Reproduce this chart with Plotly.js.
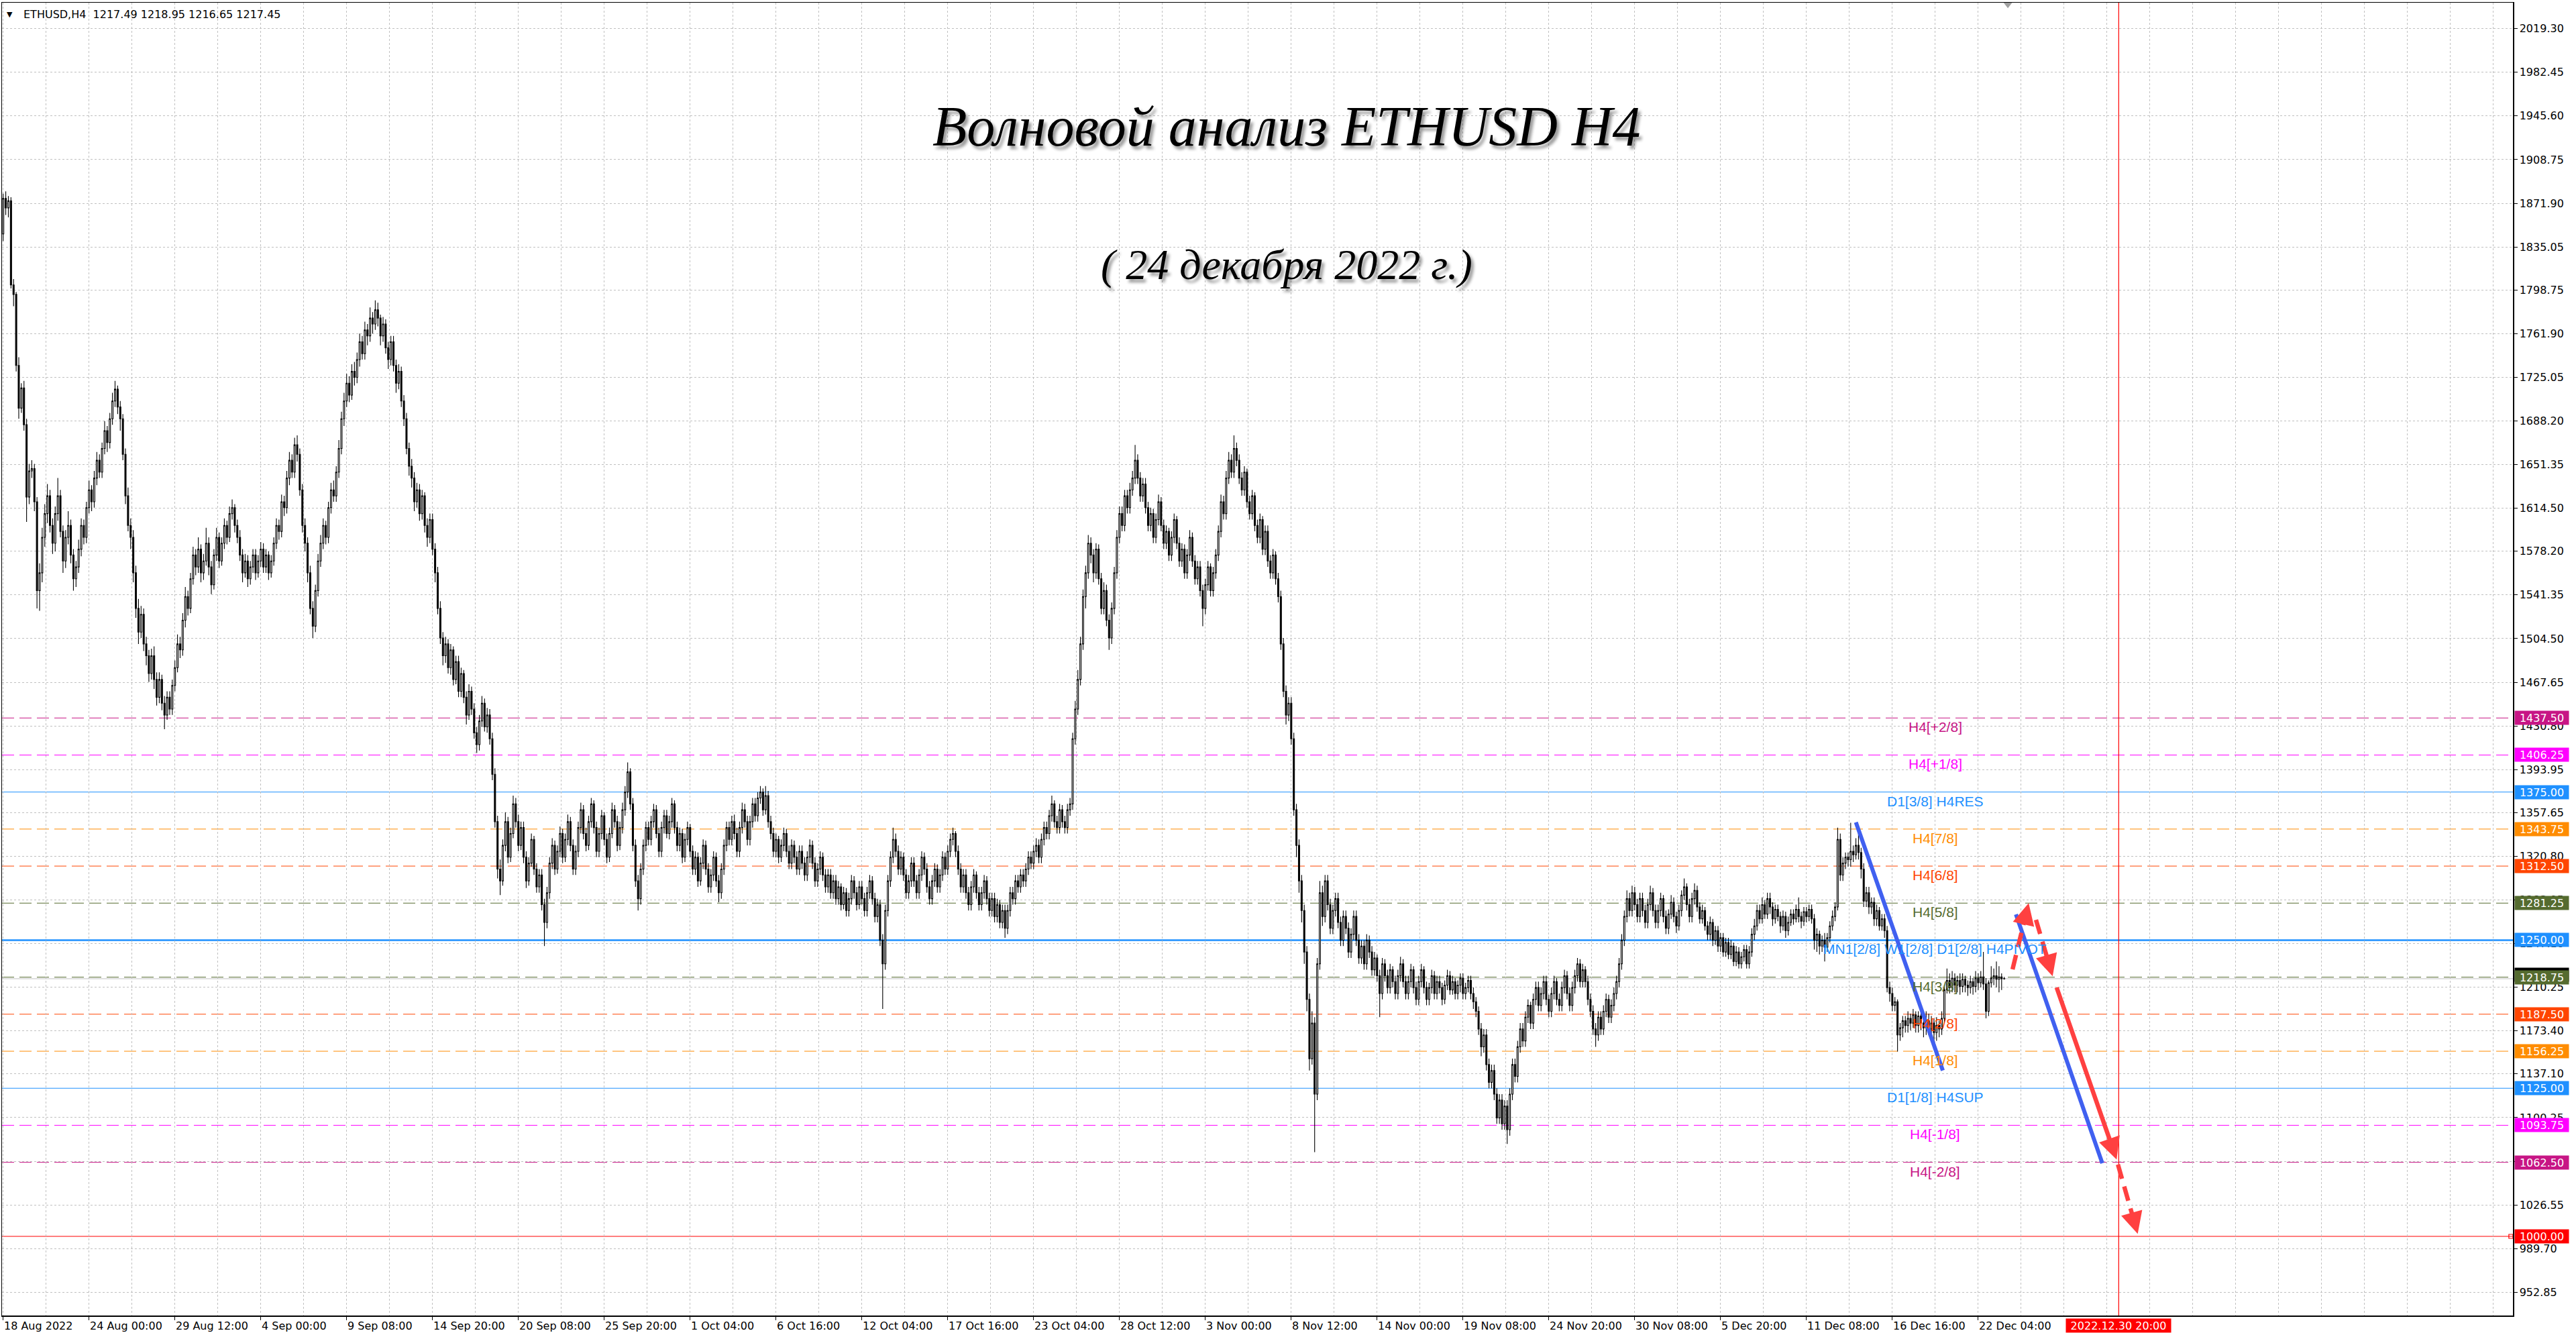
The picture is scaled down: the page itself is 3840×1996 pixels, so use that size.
<!DOCTYPE html>
<html><head><meta charset="utf-8">
<script src="https://cdn.plot.ly/plotly-3.0.1.min.js"></script>
<style>html,body{margin:0;padding:0;background:#fff;}#chart{width:3840px;height:1996px;}</style>
</head><body><div id="chart"></div>
<script>
// ---- Candle data (ETHUSD H4, bar 0 = 18 Aug 2022 12:00) ----
const firstOpen = 1846;
const close = [
1876,1868,1874,1803,1795,1735,1699,1716,1685,1624,
1646,1648,1620,1545,1560,1590,1610,1625,1600,1585,
1610,1625,1595,1570,1590,1600,1575,1555,1565,1580,
1600,1590,1615,1630,1620,1640,1655,1645,1665,1680,
1670,1690,1705,1715,1700,1690,1660,1625,1600,1590,
1560,1530,1510,1525,1500,1490,1475,1490,1470,1455,
1470,1450,1440,1455,1445,1465,1480,1500,1495,1520,
1540,1530,1555,1575,1565,1580,1560,1570,1585,1565,
1550,1575,1590,1570,1585,1600,1590,1610,1615,1600,
1590,1575,1560,1570,1555,1565,1575,1560,1570,1580,
1565,1575,1560,1570,1585,1600,1595,1620,1615,1640,
1655,1645,1668,1660,1630,1600,1585,1560,1530,1515,
1545,1570,1585,1600,1590,1615,1630,1625,1645,1665,
1690,1705,1720,1710,1730,1725,1740,1755,1745,1765,
1760,1775,1770,1782,1775,1760,1770,1750,1740,1755,
1735,1720,1730,1705,1690,1665,1650,1640,1620,1630,
1610,1625,1600,1590,1605,1580,1560,1530,1505,1490,
1500,1480,1495,1470,1485,1460,1475,1455,1440,1460,
1445,1425,1415,1435,1450,1430,1440,1420,1390,1350,
1310,1300,1330,1350,1320,1340,1365,1350,1330,1345,
1320,1300,1315,1335,1310,1295,1305,1280,1265,1290,
1315,1330,1310,1325,1340,1320,1335,1350,1330,1310,
1325,1345,1360,1340,1330,1350,1365,1345,1325,1340,
1355,1335,1320,1340,1360,1350,1330,1345,1360,1375,
1392,1365,1330,1300,1285,1310,1330,1345,1335,1350,
1360,1340,1325,1345,1355,1340,1350,1365,1345,1330,
1340,1320,1335,1345,1325,1310,1320,1300,1315,1330,
1310,1295,1305,1320,1300,1290,1310,1330,1345,1335,
1350,1340,1325,1345,1360,1350,1335,1350,1365,1355,
1370,1375,1360,1372,1350,1340,1325,1335,1320,1330,
1340,1325,1315,1330,1320,1310,1325,1315,1305,1320,
1330,1315,1300,1310,1320,1305,1295,1305,1290,1300,
1285,1295,1280,1290,1275,1285,1300,1290,1280,1295,
1285,1275,1290,1300,1285,1270,1280,1250,1230,1275,
1300,1320,1335,1325,1310,1320,1305,1290,1300,1315,
1300,1290,1305,1320,1310,1295,1285,1300,1310,1295,
1305,1320,1310,1325,1335,1340,1325,1310,1295,1305,
1290,1280,1295,1305,1290,1280,1290,1300,1285,1275,
1285,1270,1280,1265,1275,1260,1275,1290,1285,1300,
1295,1305,1300,1310,1320,1315,1325,1330,1320,1335,
1345,1340,1355,1365,1350,1345,1360,1350,1345,1360,
1365,1420,1445,1470,1500,1540,1560,1585,1575,1560,
1580,1555,1530,1545,1520,1505,1530,1560,1590,1610,
1600,1625,1615,1630,1640,1655,1640,1625,1635,1615,
1600,1610,1590,1605,1620,1600,1585,1595,1575,1590,
1605,1585,1570,1580,1560,1575,1590,1570,1555,1565,
1545,1530,1550,1565,1545,1560,1575,1595,1620,1610,
1640,1655,1645,1665,1655,1640,1630,1645,1620,1610,
1625,1600,1590,1605,1580,1595,1570,1560,1575,1555,
1540,1500,1460,1440,1450,1420,1360,1330,1300,1275,
1240,1200,1150,1180,1120,1230,1290,1270,1300,1280,
1260,1275,1285,1265,1250,1270,1260,1240,1255,1270,
1250,1235,1245,1230,1250,1240,1225,1235,1220,1205,
1230,1220,1210,1225,1215,1205,1220,1230,1215,1205,
1215,1225,1210,1200,1215,1225,1210,1200,1210,1220,
1205,1215,1210,1200,1212,1220,1208,1215,1205,1212,
1218,1205,1210,1216,1205,1198,1190,1175,1160,1170,
1145,1130,1140,1120,1100,1115,1095,1110,1090,1120,
1145,1135,1160,1175,1165,1185,1195,1180,1200,1210,
1195,1205,1215,1200,1190,1205,1215,1200,1195,1210,
1220,1205,1195,1210,1220,1230,1215,1225,1215,1200,
1190,1175,1170,1185,1175,1190,1200,1185,1195,1205,
1215,1230,1250,1270,1285,1275,1290,1280,1270,1285,
1275,1265,1280,1290,1275,1265,1275,1285,1270,1260,
1272,1282,1270,1262,1275,1288,1295,1280,1270,1285,
1292,1278,1268,1275,1262,1255,1265,1250,1258,1245,
1252,1240,1248,1238,1245,1232,1240,1230,1236,1242,
1230,1240,1255,1262,1275,1268,1280,1272,1285,1278,
1268,1276,1270,1262,1270,1258,1265,1272,1268,1276,
1270,1266,1274,1270,1276,1268,1250,1255,1245,1250,
1244,1252,1262,1270,1278,1335,1305,1315,1320,1318,
1325,1322,1330,1324,1310,1283,1290,1278,1282,1268,
1275,1262,1268,1258,1210,1205,1195,1198,1170,1176,
1182,1178,1184,1180,1187,1178,1186,1180,1176,1182,
1175,1180,1172,1178,1175,1184,1208,1216,1210,1218,
1212,1216,1211,1217,1212,1210,1215,1211,1218,1214,
1219,1213,1190,1214,1218,1220,1217,1219,1217.49,1217.45
];
const high = [
1880,1882,1878,1877,1808,1797,1742,1720,1722,1690,
1652,1655,1652,1624,1568,1598,1618,1635,1630,1606,
1616,1640,1630,1600,1596,1612,1605,1580,1570,1588,
1606,1605,1620,1638,1634,1646,1662,1660,1670,1688,
1684,1695,1712,1722,1718,1705,1694,1665,1632,1606,
1596,1566,1538,1532,1530,1506,1495,1496,1498,1476,
1476,1474,1456,1460,1460,1470,1486,1508,1506,1526,
1548,1545,1560,1582,1580,1590,1584,1576,1598,1590,
1570,1580,1598,1594,1590,1606,1604,1616,1622,1618,
1605,1596,1580,1576,1575,1570,1580,1580,1575,1586,
1585,1580,1578,1575,1590,1606,1605,1626,1625,1646,
1662,1660,1674,1676,1665,1635,1606,1590,1566,1536,
1550,1576,1592,1606,1604,1620,1636,1638,1650,1672,
1696,1712,1728,1726,1736,1738,1746,1762,1760,1772,
1770,1784,1780,1790,1788,1778,1776,1774,1755,1760,
1760,1740,1736,1734,1710,1695,1670,1656,1645,1636,
1635,1630,1628,1606,1610,1610,1585,1565,1536,1510,
1506,1504,1500,1498,1490,1490,1480,1478,1460,1466,
1464,1450,1430,1440,1456,1454,1446,1445,1425,1395,
1355,1318,1335,1358,1354,1345,1372,1370,1356,1350,
1350,1325,1320,1340,1338,1315,1310,1310,1285,1295,
1320,1336,1334,1330,1346,1344,1340,1356,1354,1335,
1330,1350,1366,1364,1345,1355,1370,1368,1350,1345,
1360,1358,1340,1345,1366,1364,1355,1350,1366,1380,
1400,1395,1370,1335,1305,1315,1335,1350,1350,1355,
1365,1364,1345,1350,1360,1360,1355,1370,1368,1350,
1345,1344,1340,1350,1348,1330,1325,1324,1320,1335,
1334,1315,1310,1325,1324,1305,1315,1335,1350,1350,
1355,1356,1345,1350,1366,1365,1355,1355,1370,1370,
1375,1380,1378,1380,1376,1355,1345,1340,1338,1335,
1345,1344,1330,1335,1334,1325,1330,1330,1320,1325,
1335,1334,1320,1315,1325,1324,1310,1310,1310,1305,
1305,1300,1298,1295,1294,1290,1305,1304,1295,1300,
1300,1290,1295,1305,1304,1290,1285,1284,1255,1280,
1305,1325,1345,1340,1330,1325,1324,1310,1305,1320,
1320,1305,1310,1325,1324,1315,1300,1305,1315,1314,
1310,1325,1324,1330,1340,1345,1342,1330,1315,1310,
1310,1295,1300,1310,1308,1295,1295,1305,1304,1290,
1290,1290,1285,1284,1280,1280,1280,1295,1295,1305,
1305,1310,1310,1315,1325,1325,1330,1336,1335,1340,
1350,1350,1360,1372,1368,1355,1365,1364,1355,1365,
1370,1425,1452,1478,1506,1546,1566,1592,1590,1580,
1585,1584,1560,1552,1550,1525,1535,1565,1596,1616,
1616,1630,1630,1636,1646,1668,1660,1645,1640,1640,
1620,1615,1614,1610,1626,1624,1605,1600,1598,1595,
1610,1608,1590,1585,1584,1580,1596,1594,1575,1570,
1570,1550,1555,1570,1568,1565,1580,1600,1626,1625,
1646,1662,1660,1676,1670,1660,1645,1650,1648,1625,
1630,1628,1605,1610,1608,1600,1600,1575,1580,1578,
1560,1545,1505,1465,1455,1455,1425,1365,1335,1305,
1280,1245,1205,1190,1185,1235,1300,1296,1305,1305,
1285,1280,1290,1290,1270,1275,1275,1265,1260,1275,
1275,1255,1250,1250,1255,1254,1245,1240,1238,1225,
1235,1234,1225,1230,1228,1220,1225,1236,1234,1220,
1220,1230,1228,1215,1220,1230,1228,1215,1214,1225,
1224,1220,1220,1214,1216,1225,1224,1220,1218,1216,
1222,1222,1214,1220,1220,1210,1202,1194,1180,1175,
1175,1150,1145,1145,1125,1120,1120,1115,1115,1125,
1150,1150,1165,1180,1180,1190,1200,1198,1205,1215,
1215,1210,1220,1220,1204,1210,1220,1218,1205,1215,
1225,1224,1210,1215,1225,1235,1234,1230,1228,1220,
1205,1195,1180,1190,1190,1195,1205,1204,1200,1210,
1220,1235,1255,1275,1292,1290,1296,1295,1285,1290,
1290,1280,1285,1296,1294,1280,1280,1290,1288,1275,
1276,1288,1286,1274,1280,1292,1302,1298,1285,1290,
1298,1296,1282,1280,1278,1266,1270,1268,1262,1262,
1256,1256,1252,1252,1250,1248,1245,1244,1240,1246,
1246,1245,1260,1268,1280,1280,1286,1284,1290,1290,
1282,1280,1280,1274,1275,1274,1270,1276,1276,1280,
1286,1274,1278,1278,1280,1280,1272,1260,1258,1254,
1256,1256,1266,1275,1282,1345,1340,1320,1324,1324,
1349,1330,1336,1346,1328,1315,1295,1295,1286,1286,
1280,1278,1272,1272,1262,1215,1210,1202,1200,1180,
1186,1186,1190,1188,1192,1190,1190,1190,1186,1190,
1188,1186,1184,1185,1182,1190,1212,1226,1222,1224,
1222,1220,1222,1222,1220,1216,1220,1218,1224,1222,
1224,1240,1218,1216,1228,1226,1232,1228,1222,1218.95
];
const low = [
1840,1862,1860,1800,1785,1730,1690,1695,1680,1603,
1618,1640,1612,1530,1528,1552,1582,1602,1594,1576,
1578,1604,1590,1560,1564,1584,1568,1545,1548,1560,
1574,1584,1585,1610,1612,1615,1634,1640,1640,1660,
1662,1665,1685,1700,1694,1680,1655,1618,1595,1580,
1552,1522,1500,1505,1494,1482,1468,1470,1462,1448,
1450,1444,1428,1436,1440,1440,1460,1476,1488,1490,
1514,1524,1526,1550,1558,1560,1552,1554,1566,1558,
1542,1546,1570,1564,1566,1580,1584,1586,1605,1594,
1585,1570,1552,1556,1548,1550,1560,1554,1556,1565,
1560,1560,1554,1556,1566,1580,1588,1590,1608,1610,
1634,1640,1640,1654,1625,1594,1578,1552,1525,1505,
1510,1540,1565,1580,1584,1585,1610,1620,1620,1640,
1660,1684,1700,1704,1706,1718,1720,1734,1740,1740,
1752,1755,1762,1765,1768,1752,1755,1745,1732,1735,
1730,1712,1715,1700,1684,1660,1642,1632,1612,1615,
1604,1605,1594,1582,1585,1575,1552,1525,1500,1482,
1484,1475,1474,1465,1466,1455,1455,1450,1432,1436,
1440,1420,1408,1410,1430,1426,1425,1415,1385,1345,
1302,1288,1296,1325,1315,1316,1336,1345,1325,1326,
1315,1294,1296,1312,1305,1290,1290,1275,1245,1260,
1285,1310,1305,1306,1320,1315,1316,1330,1325,1305,
1305,1320,1340,1335,1325,1326,1345,1340,1320,1320,
1335,1330,1315,1316,1336,1345,1325,1326,1340,1355,
1370,1360,1325,1295,1275,1280,1305,1325,1330,1330,
1345,1336,1320,1320,1340,1336,1335,1345,1340,1325,
1325,1315,1316,1330,1320,1305,1305,1295,1296,1310,
1305,1290,1290,1300,1295,1282,1285,1305,1325,1330,
1330,1335,1320,1320,1340,1345,1330,1330,1345,1350,
1350,1365,1355,1356,1345,1335,1320,1320,1315,1316,
1325,1320,1310,1310,1315,1305,1305,1310,1300,1300,
1315,1310,1295,1295,1305,1300,1290,1290,1285,1285,
1280,1280,1275,1276,1270,1270,1280,1285,1275,1276,
1280,1270,1270,1285,1280,1265,1265,1245,1192,1225,
1270,1295,1315,1320,1305,1305,1300,1285,1285,1295,
1295,1285,1285,1300,1305,1290,1280,1280,1295,1290,
1290,1300,1305,1305,1320,1330,1320,1305,1290,1290,
1285,1275,1275,1290,1285,1275,1275,1285,1280,1270,
1270,1265,1265,1260,1260,1252,1255,1270,1280,1280,
1290,1290,1295,1295,1305,1310,1310,1320,1315,1315,
1330,1335,1335,1350,1345,1340,1340,1345,1340,1340,
1355,1360,1415,1440,1465,1495,1530,1555,1568,1552,
1555,1550,1525,1525,1515,1495,1500,1525,1555,1585,
1595,1595,1610,1610,1625,1635,1635,1620,1620,1610,
1595,1595,1585,1585,1600,1595,1580,1580,1570,1570,
1585,1580,1565,1565,1555,1555,1570,1565,1550,1550,
1540,1515,1525,1545,1540,1540,1555,1570,1590,1605,
1605,1635,1640,1640,1650,1635,1625,1625,1615,1605,
1605,1595,1585,1585,1575,1575,1565,1555,1555,1550,
1535,1495,1455,1432,1435,1415,1355,1320,1290,1265,
1230,1190,1140,1145,1071,1115,1225,1262,1265,1275,
1255,1255,1270,1260,1245,1245,1255,1235,1235,1250,
1245,1230,1230,1225,1225,1235,1220,1220,1215,1185,
1200,1215,1205,1205,1210,1200,1200,1215,1210,1200,
1200,1210,1205,1195,1195,1210,1205,1195,1195,1205,
1200,1200,1205,1195,1196,1208,1204,1204,1200,1200,
1206,1200,1200,1206,1200,1192,1185,1170,1152,1155,
1140,1125,1125,1115,1095,1095,1090,1090,1078,1085,
1115,1130,1130,1155,1160,1160,1180,1175,1175,1195,
1190,1190,1200,1195,1185,1185,1200,1195,1190,1190,
1205,1200,1190,1190,1205,1215,1210,1210,1210,1195,
1185,1170,1160,1165,1170,1170,1185,1180,1180,1190,
1200,1210,1225,1245,1265,1270,1270,1275,1265,1265,
1270,1260,1260,1275,1270,1260,1260,1270,1265,1255,
1255,1268,1265,1256,1258,1270,1284,1275,1265,1265,
1280,1274,1264,1264,1258,1250,1250,1245,1246,1240,
1240,1236,1236,1234,1234,1228,1228,1226,1226,1232,
1226,1226,1236,1250,1258,1264,1264,1268,1268,1272,
1262,1264,1266,1256,1258,1252,1254,1262,1263,1265,
1265,1260,1262,1265,1266,1264,1242,1240,1238,1240,
1232,1240,1248,1258,1266,1275,1300,1300,1310,1312,
1312,1316,1318,1318,1302,1278,1278,1272,1272,1262,
1262,1258,1258,1252,1206,1198,1190,1190,1156,1165,
1168,1172,1172,1174,1176,1172,1172,1174,1168,1170,
1170,1168,1158,1165,1168,1170,1180,1205,1205,1206,
1206,1206,1204,1206,1206,1203,1205,1204,1206,1208,
1210,1208,1184,1186,1210,1212,1210,1206,1208,1216.65
];
// each bar opens at the previous bar's close
const open = [firstOpen].concat(close.slice(0, -1));
const bars = close.map((_, i) => i);

// ---- Axis labels ----
const xTickBars = [0,33,66,99,132,165,198,231,264,297,330,363,396,429,462,495,528,561,594,627,660,693,726,759];
const xTickText = ['18 Aug 2022','24 Aug 00:00','29 Aug 12:00','4 Sep 00:00','9 Sep 08:00','14 Sep 20:00','20 Sep 08:00','25 Sep 20:00','1 Oct 04:00','6 Oct 16:00','12 Oct 04:00','17 Oct 16:00','23 Oct 04:00','28 Oct 12:00','3 Nov 00:00','8 Nov 12:00','14 Nov 00:00','19 Nov 08:00','24 Nov 20:00','30 Nov 08:00','5 Dec 20:00','11 Dec 08:00','16 Dec 16:00','22 Dec 04:00'];
const yTickVals = [2019.30,1982.45,1945.60,1908.75,1871.90,1835.05,1798.75,1761.90,1725.05,1688.20,1651.35,1614.50,1578.20,1541.35,1504.50,1467.65,1430.80,1393.95,1357.65,1320.80,1283.95,1247.10,1210.25,1173.40,1137.10,1100.25,1063.40,1026.55,989.70,952.85];

// ---- Murrey levels ----
const levelPrices = [1437.50,1406.25,1375.00,1343.75,1312.50,1281.25,1250.00,1218.75,1187.50,1156.25,1125.00,1093.75,1062.50];
const levelNames = ['H4[+2/8]','H4[+1/8]','D1[3/8] H4RES','H4[7/8]','H4[6/8]','H4[5/8]','MN1[2/8] W1[2/8] D1[2/8] H4PIVOT','H4[3/8]','H4[2/8]','H4[1/8]','D1[1/8] H4SUP','H4[-1/8]','H4[-2/8]'];
const levelColors = ['#C71585','#FF00FF','#1E90FF','#FF8C00','#FF4500','#556B2F','#1E90FF','#556B2F','#FF4500','#FF8C00','#1E90FF','#FF00FF','#C71585'];
const levelSolid = [false,false,true,false,false,false,true,false,false,false,true,false,false];
const levelWidth = [1,1,1,1,1,1,2.5,1,1,1,1,1,1];
const roundLevel = 1000.00;
const bidPrice = 1217.45;
const headerText = 'ETHUSD,H4\u00a0\u00a01217.49 1218.95 1216.65 1217.45';

// ---- Drawn wave lines and arrows (bar index, price) ----
const blueLines = [[712.0,1349.5,745.4,1140.0],[773.5,1271.8,806.7,1061.7]];
const redArrows = [ // x0,y0 -> tip x1,y1, dashed?
  [772.2,1225.4,778.4,1281.3,true],
  [781.2,1267.2,787.6,1219.6,true],
  [789.0,1210.9,812.2,1064.9,false],
  [812.7,1060.6,820.3,1002.2,true]
];
const futureBar = 813, futureLabel = '2022.12.30 20:00';
const shiftBar = 770.4;

const xMin = -0.44, xMax = 964.5, yMin = 933.2, yMax = 2041.2;
const labelBar = 742.5;

const shapes = [];
levelPrices.forEach((p, i) => {
  shapes.push({type:'line', xref:'paper', x0:0, x1:1, yref:'y', y0:p, y1:p, layer:'below',
    line:{color:levelColors[i], width:levelWidth[i], dash: levelSolid[i] ? 'solid' : '18px,8px'}});
});
shapes.push({type:'line', xref:'paper', x0:0, x1:1, yref:'y', y0:bidPrice, y1:bidPrice, layer:'below', line:{color:'#C0C0C0', width:1}});
shapes.push({type:'line', xref:'paper', x0:0, x1:1, yref:'y', y0:roundLevel, y1:roundLevel, layer:'below', line:{color:'#FF0000', width:1.2}});
shapes.push({type:'line', xref:'x', x0:futureBar, x1:futureBar, yref:'paper', y0:0, y1:1, layer:'below', line:{color:'#FF0000', width:1.2}});
blueLines.forEach(b => shapes.push({type:'line', xref:'x', yref:'y', x0:b[0], y0:b[1], x1:b[2], y1:b[3], line:{color:'#4060F0', width:6}}));

const annotations = [];
// dashed/solid red arrows
redArrows.forEach(a => {
  const [x0,y0,x1,y1,dashed] = a;
  const hx = x1 - (x1 - x0) * 0.18, hy = y1 - (y1 - y0) * 0.18;
  if (dashed) {
    shapes.push({type:'line', xref:'x', yref:'y', x0:x0, y0:y0, x1:hx, y1:hy, line:{color:'#FF4040', width:6.5, dash:'22px,12px'}});
    annotations.push({x:x1, y:y1, ax:x1 - (x1 - x0) * 0.12, ay:y1 - (y1 - y0) * 0.12, axref:'x', ayref:'y', xref:'x', yref:'y', showarrow:true, arrowhead:2, arrowsize:1, arrowwidth:6.5, arrowcolor:'#FF4040', text:'', standoff:0});
  } else {
    annotations.push({x:x1, y:y1, ax:x0, ay:y0, axref:'x', ayref:'y', xref:'x', yref:'y', showarrow:true, arrowhead:2, arrowsize:1, arrowwidth:6.5, arrowcolor:'#FF4040', text:'', standoff:0});
  }
});
// level names on chart
levelPrices.forEach((p, i) => annotations.push({xref:'x', yref:'y', x:labelBar, y:p, yanchor:'top', xanchor:'center', yshift:0, showarrow:false,
  text:levelNames[i], font:{family:'Liberation Sans, Arial, sans-serif', size:21, color:levelColors[i]}}));
// price boxes on right axis
const boxFont = {family:'DejaVu Sans, Verdana, sans-serif', size:16, color:'#FFFFFF'};
annotations.push({xref:'paper', yref:'y', x:1, y:1221.0, xanchor:'left', xshift:2, showarrow:false, text:bidPrice.toFixed(2), bgcolor:'#000000', font:boxFont, width:80, height:20, borderpad:0});
levelPrices.forEach((p, i) => annotations.push({xref:'paper', yref:'y', x:1, y:p, xanchor:'left', yanchor:'middle', xshift:2, showarrow:false,
  text:p.toFixed(2), bgcolor:levelColors[i], font:boxFont, width:80, height:20, borderpad:0}));
annotations.push({xref:'paper', yref:'y', x:1, y:roundLevel, xanchor:'left', yanchor:'middle', xshift:2, showarrow:false, text:roundLevel.toFixed(2), bgcolor:'#FF0000', font:boxFont, width:80, height:20, borderpad:0});
// future time label
annotations.push({xref:'x', yref:'paper', x:futureBar, y:0, yanchor:'top', yshift:-4, showarrow:false, text:futureLabel, bgcolor:'#FF0000', font:boxFont, width:156, height:20, borderpad:0});
// header
annotations.push({xref:'paper', yref:'paper', x:0, y:1, xanchor:'left', yanchor:'top', xshift:5, yshift:-9, showarrow:false, text:'\u25BC', font:{family:'DejaVu Sans', size:11, color:'#000'}});
annotations.push({xref:'paper', yref:'paper', x:0, y:1, xanchor:'left', yanchor:'top', xshift:30, yshift:-6, showarrow:false, text:headerText, font:{family:'DejaVu Sans, Verdana, sans-serif', size:16, color:'#000'}});
// titles
annotations.push({xref:'paper', yref:'paper', x:0.5116, y:0.9055, xanchor:'center', yanchor:'middle', showarrow:false,
  text:'Волновой анализ ETHUSD H4', font:{family:'Liberation Serif, Times New Roman, serif', size:84, style:'italic', color:'#000', shadow:'4px 5px 4px rgba(0,0,0,0.40)'}});
annotations.push({xref:'paper', yref:'paper', x:0.5116, y:0.8007, xanchor:'center', yanchor:'middle', showarrow:false,
  text:'( 24 декабря 2022 г.)', font:{family:'Liberation Serif, Times New Roman, serif', size:64, style:'italic', color:'#000', shadow:'4px 5px 4px rgba(0,0,0,0.40)'}});

const traces = [
  {type:'candlestick', x:bars, open:open, high:high, low:low, close:close,
   increasing:{line:{color:'#000000', width:1.1}, fillcolor:'#FFFFFF'},
   decreasing:{line:{color:'#000000', width:1.1}, fillcolor:'#000000'},
   whiskerwidth:0, hoverinfo:'skip', showlegend:false},
  {type:'scatter', mode:'markers', x:[xMax - 0.8], y:[roundLevel], marker:{symbol:'square-open', size:6, color:'#FF0000', line:{width:1.2}}, hoverinfo:'skip', showlegend:false, cliponaxis:false},
  {type:'scatter', mode:'markers', x:[shiftBar], y:[yMax - 1.5], marker:{symbol:'triangle-down', size:11, color:'#A0A0A0'}, hoverinfo:'skip', showlegend:false, cliponaxis:false}
];

const gridDash = '3px,3px';
const layout = {
  width:3840, height:1996,
  margin:{l:3, r:94, t:4, b:35, pad:0},
  paper_bgcolor:'#FFFFFF', plot_bgcolor:'#FFFFFF',
  showlegend:false,
  font:{family:'DejaVu Sans, Verdana, sans-serif', size:16, color:'#000'},
  xaxis:{
    range:[xMin, xMax], tickmode:'array', tickvals:xTickBars, ticktext:xTickText,
    ticks:'outside', ticklen:5, tickcolor:'#000', ticklabelposition:'outside right',
    tickfont:{family:'DejaVu Sans, Verdana, sans-serif', size:16, color:'#000'},
    showline:true, linecolor:'#000', linewidth:1.5, mirror:true,
    showgrid:true, gridcolor:'#C0C0C0', griddash:gridDash, gridwidth:1,
    minor:{tickmode:'linear', tick0:0, dtick:16.5, showgrid:true, gridcolor:'#C0C0C0', griddash:gridDash, gridwidth:1, ticks:''},
    zeroline:false, rangeslider:{visible:false}, fixedrange:true
  },
  yaxis:{
    side:'right', range:[yMin, yMax], tickmode:'array', tickvals:yTickVals, ticktext:yTickVals.map(v => v.toFixed(2)),
    ticks:'outside', ticklen:5, tickcolor:'#000',
    tickfont:{family:'DejaVu Sans, Verdana, sans-serif', size:16, color:'#000'},
    showline:true, linecolor:'#000', linewidth:1.5, mirror:true,
    showgrid:true, gridcolor:'#C0C0C0', griddash:gridDash, gridwidth:1,
    zeroline:false, fixedrange:true
  },
  shapes:shapes, annotations:annotations
};

Plotly.newPlot('chart', traces, layout, {displayModeBar:false, staticPlot:true});
</script>
</body></html>
